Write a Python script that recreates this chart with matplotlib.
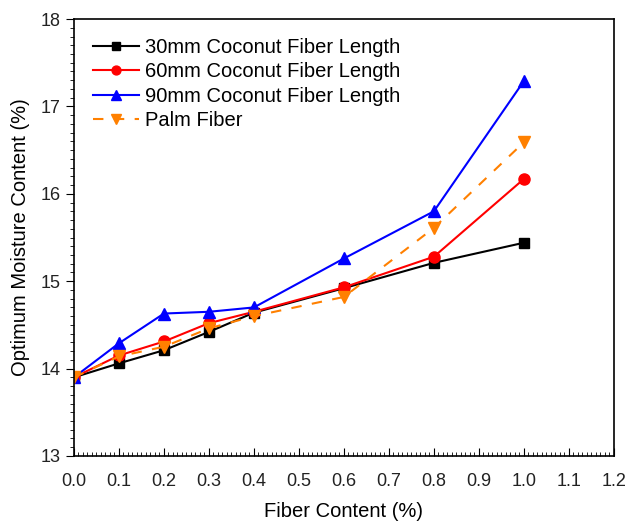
import numpy as np
import matplotlib.pyplot as plt
from matplotlib.ticker import MultipleLocator

plt.rcParams['font.family'] = ['Liberation Sans', 'DejaVu Sans']

fiber = [0.0, 0.1, 0.2, 0.3, 0.4, 0.6, 0.8, 1.0]
omc_30 = [13.9, 14.06, 14.21, 14.42, 14.64, 14.92, 15.21, 15.44]
omc_60 = [13.9, 14.15, 14.31, 14.52, 14.65, 14.93, 15.28, 16.17]
omc_90 = [13.9, 14.29, 14.63, 14.65, 14.70, 15.26, 15.80, 17.29]
omc_palm = [13.9, 14.14, 14.25, 14.46, 14.60, 14.82, 15.61, 16.59]
xtick_vals = np.arange(0, 1.21, 0.1)

fig = plt.figure(figsize=(6.27, 5.22), dpi=100)
ax = fig.add_axes([0.118, 0.1265, 0.861, 0.837])

ax.plot(fiber, omc_30, color='black', marker='s', markersize=7, linewidth=1.5,
        label='30mm Coconut Fiber Length')
ax.plot(fiber, omc_60, color='red', marker='o', markersize=8, linewidth=1.5,
        label='60mm Coconut Fiber Length')
ax.plot(fiber, omc_90, color='blue', marker='^', markersize=9, linewidth=1.5,
        label='90mm Coconut Fiber Length')
ax.plot(fiber, omc_palm, color='#FF8000', marker='v', markersize=9, linewidth=1.5,
        linestyle=(0, (5, 5)), label='Palm Fiber')

ax.set_xlim(0, 1.2)
ax.set_ylim(13, 18)
ax.xaxis.set_minor_locator(MultipleLocator(0.01))
ax.yaxis.set_major_locator(MultipleLocator(1))
ax.yaxis.set_minor_locator(MultipleLocator(0.1))
ax.set_xticks(xtick_vals)
ax.set_xticklabels(['%.1f' % v for v in xtick_vals])
ax.tick_params(axis='x', which='major', direction='in', length=6, labelsize=13,
               pad=12, labelcolor='#222222')
ax.tick_params(axis='x', which='minor', direction='in', length=3)
ax.tick_params(axis='y', which='major', direction='out', length=6, labelsize=13,
               labelcolor='#222222')
ax.tick_params(axis='y', which='minor', direction='out', length=3)
for s in ax.spines.values():
    s.set_linewidth(1.2)

ax.set_xlabel('Fiber Content (%)', fontsize=14.5, labelpad=9)
ax.set_ylabel('Optimum Moisture Content (%)', fontsize=14.5, labelpad=8)

ax.legend(loc='upper left', frameon=False, fontsize=14.5, handlelength=2.3,
          handletextpad=0.3, labelspacing=0.26, borderaxespad=0.55,
          markerscale=0.8)

plt.savefig('out.png', dpi=100)
